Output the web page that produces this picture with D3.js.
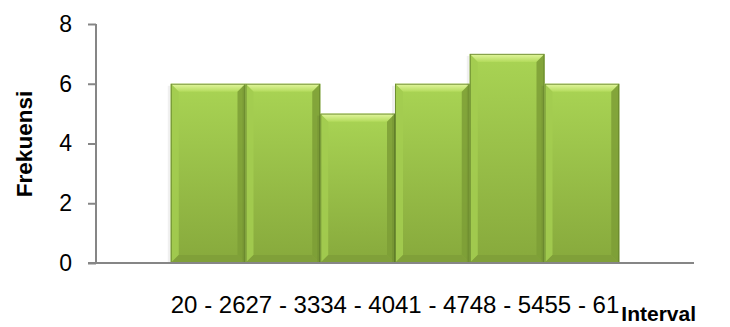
<!DOCTYPE html>
<html>
<head>
<meta charset="utf-8">
<script src="https://cdn.jsdelivr.net/npm/d3@7"></script>
<style>
  html, body { margin: 0; padding: 0; background: #fff; }
  svg { display: block; }
  text { font-family: "Liberation Sans", Arial, sans-serif; fill: #000; }
</style>
</head>
<body>
<svg id="chart" width="730" height="327"></svg>
<script>
const categories = ["20 - 26", "27 - 33", "34 - 40", "41 - 47", "48 - 54", "55 - 61"];
const frequencies = [6, 6, 5, 6, 7, 6];
const yTicks = [0, 2, 4, 6, 8];
const xTitle = "Interval";
const yTitle = "Frekuensi";

(function () {
const svg = d3.select("#chart");
const mLeft = 96, mRight = 694, mTop = 24, mBottom = 263;

const x = d3.scaleBand().domain(categories).range([mLeft, mRight]).paddingInner(0).paddingOuter(1);
const y = d3.scaleLinear().domain([0, 8]).range([mBottom, mTop]);

const defs = svg.append("defs");
const body = defs.append("linearGradient").attr("id", "body").attr("x1", 0).attr("y1", 0).attr("x2", 0).attr("y2", 1);
body.append("stop").attr("offset", "0%").attr("stop-color", "#a9d454");
body.append("stop").attr("offset", "100%").attr("stop-color", "#87a93c");
const topG = defs.append("linearGradient").attr("id", "topbev").attr("x1", 0).attr("y1", 0).attr("x2", 0).attr("y2", 1);
topG.append("stop").attr("offset", "0%").attr("stop-color", "#e4f7a0");
topG.append("stop").attr("offset", "100%").attr("stop-color", "#b3db5c");

const bev = 8;
const bars = svg.append("g");
categories.forEach((c, i) => {
  const x0 = x(c), w = x.bandwidth(), y0 = y(frequencies[i]), y1 = y(0);
  const x1 = x0 + w;
  const g = bars.append("g");
  g.append("rect").attr("x", x0 - 3).attr("y", y0 + 2).attr("width", 3).attr("height", y1 - y0 - 2)
    .attr("fill", "#000").attr("opacity", 0.06);
  g.append("rect").attr("x", x0).attr("y", y0).attr("width", w).attr("height", y1 - y0).attr("fill", "url(#body)");
  g.append("polygon").attr("points", [[x0, y0], [x1, y0], [x1 - bev, y0 + bev], [x0 + bev, y0 + bev]].join(" "))
    .attr("fill", "url(#topbev)");
  g.append("polygon").attr("points", [[x0, y0], [x0 + bev, y0 + bev], [x0 + bev, y1 - bev], [x0, y1]].join(" "))
    .attr("fill", "#a3cc50").attr("opacity", 0.9);
  g.append("polygon").attr("points", [[x1, y0], [x1, y1], [x1 - bev, y1 - bev], [x1 - bev, y0 + bev]].join(" "))
    .attr("fill", "#7d9d36").attr("opacity", 0.85);
  g.append("polygon").attr("points", [[x0, y1], [x1, y1], [x1 - bev, y1 - bev], [x0 + bev, y1 - bev]].join(" "))
    .attr("fill", "#7f9f38").attr("opacity", 0.9);
  g.append("rect").attr("x", x0 + 0.5).attr("y", y0 + 0.5).attr("width", w - 1).attr("height", y1 - y0 - 1)
    .attr("fill", "none").attr("stroke", "#62802a").attr("stroke-width", 1).attr("opacity", 0.8);
});

const yAxis = svg.append("g").attr("transform", `translate(${mLeft},0)`)
  .call(d3.axisLeft(y).tickValues(yTicks).tickSize(8).tickPadding(16).tickFormat(d3.format("d")));
yAxis.select(".domain").attr("stroke", "#868686").attr("stroke-width", 2).attr("d", `M0,${mTop}V${mBottom}`);
yAxis.selectAll(".tick line").attr("stroke", "#868686").attr("stroke-width", 2);
yAxis.selectAll(".tick text").attr("font-size", 23).attr("font-family", "Liberation Sans, Arial, sans-serif").attr("fill", "#000");

const xAxis = svg.append("g").attr("transform", `translate(0,${mBottom})`)
  .call(d3.axisBottom(x).tickSize(0).tickPadding(33));
xAxis.select(".domain").attr("stroke", "#868686").attr("stroke-width", 2).attr("d", `M${mLeft - 8},0H${mRight}`);
xAxis.selectAll(".tick text").attr("font-size", 24).attr("font-family", "Liberation Sans, Arial, sans-serif").attr("fill", "#000");

svg.append("text").attr("x", 696).attr("y", 321).attr("text-anchor", "end")
  .attr("font-size", 21).attr("font-weight", "bold").text(xTitle);
svg.append("text").attr("transform", "translate(32,144) rotate(-90)").attr("text-anchor", "middle")
  .attr("font-size", 22.5).attr("font-weight", "bold").text(yTitle);
})();
</script>
</body>
</html>
